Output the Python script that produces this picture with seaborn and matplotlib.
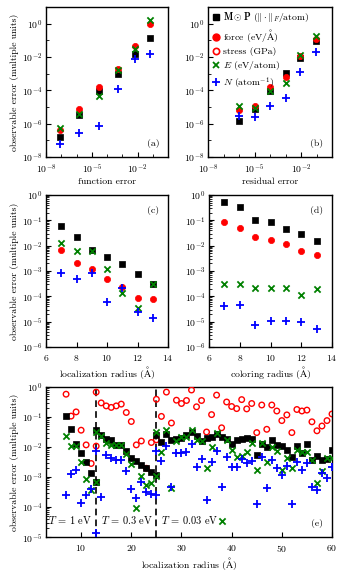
import numpy as np
import pandas as pd
import seaborn as sns
import matplotlib
matplotlib.use("Agg")
import matplotlib.pyplot as plt
from matplotlib.lines import Line2D
from matplotlib.ticker import LogLocator, FixedLocator, NullFormatter

# ---------------- data (log10 of values) ----------------
# panel (a): observable error vs function error
a_x_log = [-7.1, -5.83, -4.55, -3.28, -2.19, -1.17]
a_M_log = [-6.82, -5.5, -4.06, -3.0, -1.82, -0.84]
a_force_log = [-6.36, -5.1, -3.82, -2.7, -1.32, 0.0]
a_E_log = [-6.26, -5.42, -4.32, -2.76, -1.52, 0.2]
a_N_log = [-7.2, -6.58, -6.16, -3.92, -2.1, -1.8]

# panel (b): observable error vs residual error
b_x_log = [-6.02, -5.0, -3.98, -2.96, -2.07, -1.05]
b_M_log = [-5.86, -5.1, -4.02, -2.98, -2.06, -1.02]
b_force_log = [-5.18, -4.92, -3.8, -3.18, -1.96, -0.9]
b_E_log = [-4.96, -5.06, -4.06, -3.54, -1.86, -0.76]
b_N_log = [-5.52, -5.62, -4.96, -4.44, -2.92, -1.72]

# panel (c): localization radius
c_r = [7, 8, 9, 10, 11, 12, 13]
c_M_log = [-1.24, -1.64, -2.16, -2.43, -2.73, -3.13, -3.53]
c_force_log = [-2.17, -2.67, -2.91, -3.33, -3.63, -4.07, -4.09]
c_E_log = [-1.91, -2.23, -2.23, -2.93, -3.88, -4.47, -3.53]
c_N_log = [-3.07, -3.33, -3.07, -4.24, -3.67, -4.63, -4.86]

# panel (d): coloring radius
d_r = [7, 8, 9, 10, 11, 12, 13]
d_M_log = [-0.27, -0.47, -0.97, -1.08, -1.36, -1.55, -1.8]
d_force_log = [-1.07, -1.32, -1.65, -1.76, -1.93, -2.2, -2.37]
d_E_log = [-3.51, -3.51, -3.67, -3.68, -3.68, -3.96, -3.71]
d_N_log = [-4.4, -4.36, -5.14, -4.97, -4.96, -5.0, -5.29]

# panel (e): three temperatures
e1_r = [7, 8, 9, 10, 11, 12, 13]
e1_M_log = [-0.96, -1.41, -1.91, -2.19, -2.49, -2.85, -3.18]
e1_S_log = [-0.24, -0.97, -0.83, -1.44, -1.93, -2.55, -1.97]
e1_E_log = [-1.62, -1.95, -1.98, -2.5, -3.05, -3.42, -3.17]
e1_N_log = [-3.59, -2.89, -2.78, -3.87, -3.59, -3.4, -4.85]

e2_r = [13, 14, 15, 16, 17, 18, 19, 20, 21, 22, 23, 24, 25]
e2_M_log = [-1.44, -1.61, -1.74, -1.78, -1.92, -1.92, -2.14, -2.37, -2.47, -2.59, -2.7, -2.83, -2.94]
e2_S_log = [-0.17, -0.53, -0.63, -0.68, -0.63, -0.57, -0.85, -1.15, -1.93, -1.8, -2.71, -1.85, -1.76]
e2_E_log = [-1.5, -1.62, -1.86, -1.94, -1.94, -1.92, -2.22, -2.58, -4.04, -2.95, -3.28, -3.19, -2.95]
e2_N_log = [-2.14, -3.67, -2.26, -2.37, -2.42, -2.44, -2.81, -3.4, -3.7, -3.17, -3.5, -3.55, -3.6]

e3_r = list(range(25, 61))
e3_M_log = [-1.6, -1.83, -1.56, -1.78, -1.72, -1.7, -1.6, -1.5, -1.64, -1.8, -1.7, -1.67,
            -1.55, -1.65, -1.72, -1.9, -1.75, -1.72, -1.69, -1.72, -2.28, -1.89, -2.0, -1.76,
            -1.94, -1.98, -2.11, -2.33, -1.98, -2.2, -1.89, -2.44, -2.31, -2.44, -2.39, -2.09]
e3_S_log = [-0.41, -0.98, -0.17, -1.2, -0.44, -0.55, -0.45, -0.1, -0.66, -0.45, -1.5, -0.92,
            -0.27, -1.36, -0.5, -0.65, -0.72, -0.42, -0.73, -0.55, -1.52, -0.6, -1.41, -0.6,
            -0.8, -1.12, -0.93, -1.52, -0.75, -0.8, -0.77, -1.16, -1.46, -1.3, -1.12, -0.9]
e3_E_log = [-1.5, -2.17, -1.42, -3.35, -1.8, -1.66, -1.66, -1.42, -1.78, -1.8, -2.7, -2.0,
            -1.52, -4.48, -1.75, -2.1, -2.32, -2.3, -2.16, -1.85, -2.77, -1.88, -2.5, -2.0,
            -2.12, -2.78, -2.36, -2.7, -2.1, -2.18, -2.18, -2.43, -3.2, -2.8, -2.35, -2.36]
e3_N_log = [-2.14, -2.48, -1.97, -3.32, -2.19, -2.19, -2.16, -1.91, -2.66, -2.4, -3.77, -2.5,
            -2.12, -3.34, -2.34, -2.66, -2.66, -2.41, -2.54, -2.46, -3.9, -2.33, -3.36, -2.43,
            -2.71, -2.93, -2.63, -3.9, -2.49, -2.77, -2.54, -3.34, -3.43, -2.88, -3.04, -2.66]

T_boundaries = [13, 25]
T_labels = [r"$T$ = 1 eV", r"$T$ = 0.3 eV", r"$T$ = 0.03 eV"]
T_label_x = [7.8, 19.1, 31.6]

series_labels = {
    "M": r"$\mathbf{M}\odot\mathbf{P}$ ($\|\cdot\|_F$/atom)",
    "force": r"force (eV/$\mathrm{\AA}$)",
    "stress": "stress (GPa)",
    "E": r"$E$ (eV/atom)",
    "N": r"$N$ (atom$^{-1}$)",
}

# ---------------- style ----------------
sns.set_style("ticks")
FS = 7
plt.rcParams.update({
    "font.family": ["cmr10", "DejaVu Serif"],
    "mathtext.fontset": "cm",
    "axes.unicode_minus": False,
    "axes.formatter.use_mathtext": True,
    "font.size": FS,
    "axes.labelsize": FS,
    "xtick.labelsize": FS,
    "ytick.labelsize": FS,
    "xtick.direction": "in",
    "ytick.direction": "in",
    "axes.linewidth": 1.0,
    "axes.edgecolor": "black",
    "xtick.color": "black",
    "ytick.color": "black",
    "text.color": "black",
    "axes.labelcolor": "black",
})

STY = {
    "M": dict(marker="s", color="black", edgecolor="black", linewidth=0.5, s=20),
    "force": dict(marker="o", color="red", edgecolor="red", linewidth=0.5, s=20),
    "stress": dict(marker="o", facecolor="none", edgecolor="red", linewidth=1.0, s=16),
    "E": dict(marker="x", color="green", linewidth=1.3, s=20),
    "N": dict(marker="+", color="blue", linewidth=1.3, s=28),
}

W, H = 339, 571
fig = plt.figure(figsize=(W / 100, H / 100), dpi=100)


def rect(l, r, t, b):
    return [l / W, 1 - b / H, (r - l) / W, (b - t) / H]


ax_a = fig.add_axes(rect(46, 168, 7, 157))
ax_b = fig.add_axes(rect(208, 332, 7, 157))
ax_c = fig.add_axes(rect(46, 168, 195, 347))
ax_d = fig.add_axes(rect(209, 332, 195, 347))
ax_e = fig.add_axes(rect(46, 332, 387, 537))


def pts(ax, x, ylog, key, xlog=False):
    x = np.asarray(x, dtype=float)
    xv = 10.0 ** x if xlog else x
    df = pd.DataFrame({"x": xv, "y": 10.0 ** np.asarray(ylog, dtype=float)})
    kw = dict(STY[key])
    if key == "stress":
        ax.scatter(df["x"], df["y"], zorder=3, **kw)
    else:
        sns.scatterplot(data=df, x="x", y="y", ax=ax, legend=False, zorder=3, **kw)


for ax, xs, M, F, E, N in [
    (ax_a, a_x_log, a_M_log, a_force_log, a_E_log, a_N_log),
    (ax_b, b_x_log, b_M_log, b_force_log, b_E_log, b_N_log),
]:
    pts(ax, xs, M, "M", xlog=True)
    pts(ax, xs, F, "force", xlog=True)
    pts(ax, xs, E, "E", xlog=True)
    pts(ax, xs, N, "N", xlog=True)
    ax.set_xscale("log")
    ax.set_yscale("log")
    ax.set_xlim(1e-8, 1)
    ax.set_ylim(1e-8, 10)
    ax.xaxis.set_major_locator(FixedLocator([1e-8, 1e-5, 1e-2]))
    ax.xaxis.set_minor_locator(FixedLocator([10.0 ** k for k in range(-8, 1)]))
    ax.xaxis.set_minor_formatter(NullFormatter())
    ax.yaxis.set_major_locator(FixedLocator([1e-8, 1e-6, 1e-4, 1e-2, 1e0]))
    ax.yaxis.set_minor_locator(FixedLocator([10.0 ** k for k in range(-8, 2)]))
    ax.yaxis.set_minor_formatter(NullFormatter())

ax_a.set_xlabel("function error", labelpad=1)
ax_b.set_xlabel("residual error", labelpad=1)

for ax, rs, M, F, E, N in [
    (ax_c, c_r, c_M_log, c_force_log, c_E_log, c_N_log),
    (ax_d, d_r, d_M_log, d_force_log, d_E_log, d_N_log),
]:
    pts(ax, rs, M, "M")
    pts(ax, rs, F, "force")
    pts(ax, rs, E, "E")
    pts(ax, rs, N, "N")
    ax.set_yscale("log")
    ax.set_xlim(6, 14)
    ax.set_ylim(1e-6, 1)
    ax.set_xticks([6, 8, 10, 12, 14])
    ax.yaxis.set_major_locator(FixedLocator([10.0 ** k for k in range(-6, 1)]))
    ax.yaxis.set_minor_locator(LogLocator(base=10, subs=np.arange(2, 10), numticks=20))
    ax.yaxis.set_minor_formatter(NullFormatter())

ax_c.set_xlabel(r"localization radius ($\mathrm{\AA}$)", labelpad=1)
ax_d.set_xlabel(r"coloring radius ($\mathrm{\AA}$)", labelpad=1)

for rs, M, S, E, N in [
    (e1_r, e1_M_log, e1_S_log, e1_E_log, e1_N_log),
    (e2_r, e2_M_log, e2_S_log, e2_E_log, e2_N_log),
    (e3_r, e3_M_log, e3_S_log, e3_E_log, e3_N_log),
]:
    pts(ax_e, rs, S, "stress")
    pts(ax_e, rs, M, "M")
    pts(ax_e, rs, E, "E")
    pts(ax_e, rs, N, "N")
ax_e.set_yscale("log")
ax_e.set_xlim(3, 60)
ax_e.set_ylim(1e-5, 1)
ax_e.set_xticks([10, 20, 30, 40, 50, 60])
ax_e.yaxis.set_major_locator(FixedLocator([10.0 ** k for k in range(-5, 1)]))
ax_e.yaxis.set_minor_locator(LogLocator(base=10, subs=np.arange(2, 10), numticks=20))
ax_e.yaxis.set_minor_formatter(NullFormatter())
for xb in T_boundaries:
    ax_e.axvline(xb, color="black", linestyle=(0, (4, 2.5)), linewidth=1.2, zorder=2)
for tx, tl in zip(T_label_x, T_labels):
    ax_e.text(tx, 10 ** -4.43, tl, ha="center", va="center", fontsize=7.5)
ax_e.set_xlabel(r"localization radius ($\mathrm{\AA}$)", labelpad=1)

for ax in [ax_a, ax_c, ax_e]:
    ax.set_ylabel("observable error (multiple units)", labelpad=2)
for ax in [ax_b, ax_d]:
    ax.set_ylabel("")

for ax in [ax_a, ax_b, ax_c, ax_d, ax_e]:
    ax.tick_params(which="both", direction="in", top=False, right=False)
    ax.tick_params(which="major", length=3.5, width=0.8)
    ax.tick_params(axis="y", which="major", pad=2.5)
    ax.tick_params(axis="x", which="major", pad=4)
    ax.tick_params(which="minor", length=2, width=0.6)
    for sp in ax.spines.values():
        sp.set_visible(True)
        sp.set_linewidth(1.0)

# panel tags
ax_a.text(0.93, 0.06, "(a)", transform=ax_a.transAxes, ha="right", va="bottom")
ax_b.text(0.93, 0.06, "(b)", transform=ax_b.transAxes, ha="right", va="bottom")
ax_c.text(0.93, 0.93, "(c)", transform=ax_c.transAxes, ha="right", va="top")
ax_d.text(0.93, 0.93, "(d)", transform=ax_d.transAxes, ha="right", va="top")
ax_e.text(0.97, 0.06, "(e)", transform=ax_e.transAxes, ha="right", va="bottom")

# legend
handles = [
    Line2D([], [], linestyle="none", marker="s", color="black", markersize=5),
    Line2D([], [], linestyle="none", marker="o", color="red", markersize=5),
    Line2D([], [], linestyle="none", marker="o", markerfacecolor="none",
           markeredgecolor="red", markeredgewidth=1.2, markersize=4.5),
    Line2D([], [], linestyle="none", marker="x", color="green", markeredgewidth=1.3, markersize=5),
    Line2D([], [], linestyle="none", marker="+", color="blue", markeredgewidth=1.3, markersize=6),
]
ax_b.legend(handles, [series_labels[k] for k in ["M", "force", "stress", "E", "N"]],
            loc="upper left", frameon=False, handletextpad=0.2, handlelength=1.0,
            borderaxespad=0.15, labelspacing=0.3, borderpad=0.2, fontsize=7)

fig.savefig("out.png", dpi=100)
